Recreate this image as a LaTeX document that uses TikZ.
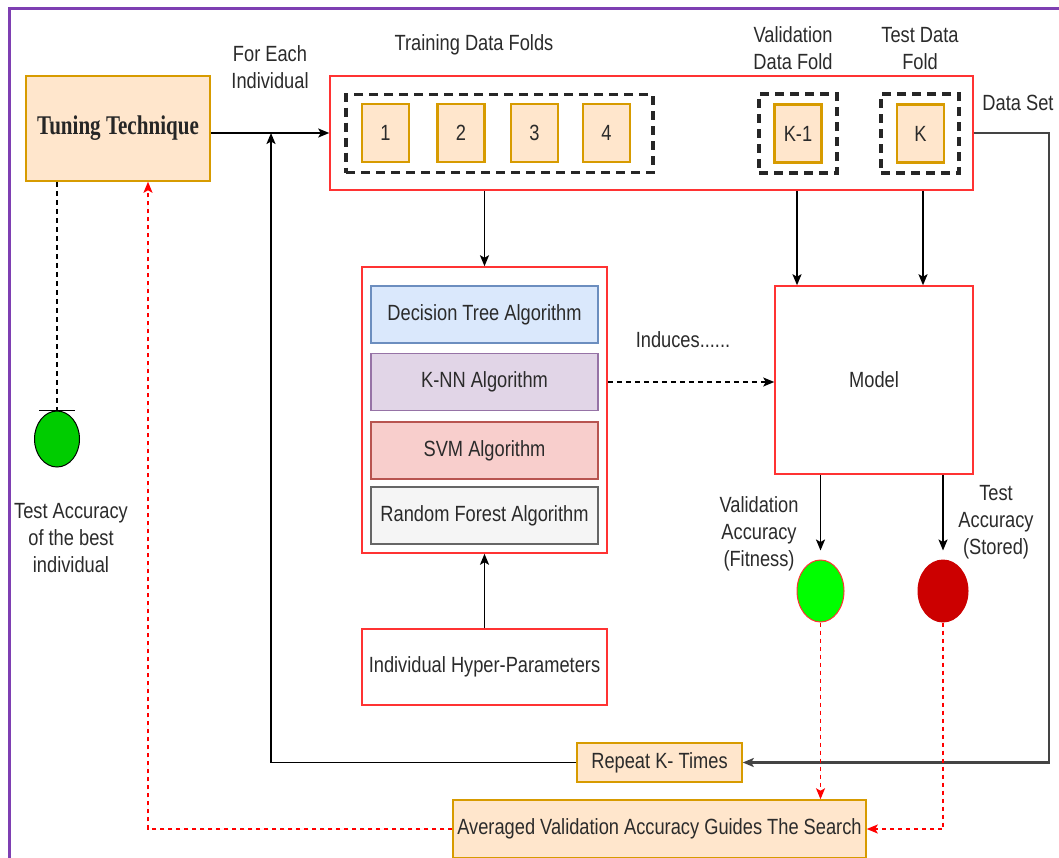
\documentclass[tikz,border=0pt]{standalone}
\usepackage{fontspec}
\setmainfont[FakeStretch=0.83]{Liberation Sans}
\newfontfamily\tunefont[FakeStretch=0.78]{Liberation Serif}
\usetikzlibrary{arrows.meta,shapes.geometric}

\definecolor{frame}{RGB}{126,63,178}
\definecolor{ofill}{HTML}{FFE6CC}
\definecolor{oline}{HTML}{D79B00}
\definecolor{rline}{HTML}{FF3333}
\definecolor{bfill}{HTML}{DAE8FC}
\definecolor{bline}{HTML}{6C8EBF}
\definecolor{pfill}{HTML}{E1D5E7}
\definecolor{pline}{HTML}{9673A6}
\definecolor{sfill}{HTML}{F8CECC}
\definecolor{sline}{HTML}{B85450}
\definecolor{gfill}{HTML}{F5F5F5}
\definecolor{gline}{HTML}{666666}
\definecolor{txt}{HTML}{2B2B2B}
\definecolor{dsline}{HTML}{444444}
\definecolor{okgreen}{HTML}{00FF00}
\definecolor{bestgreen}{HTML}{00CC00}
\definecolor{badred}{HTML}{CC0000}

\begin{document}
\begin{tikzpicture}[x=1pt,y=-1pt,
  every node/.style={text=txt,font=\fontsize{22}{27}\selectfont},
  obox/.style={draw=oline,fill=ofill,line width=1.5pt,inner sep=0pt},
  redbox/.style={draw=rline,line width=1.5pt,inner sep=0pt},
  foldbox/.style={draw=oline,fill=ofill,line width=2.8pt,inner sep=0pt,
    minimum width=47pt,minimum height=58pt},
  dgroup/.style={draw=black!85,line width=3.5pt,dash pattern=on 9pt off 6pt,inner sep=0pt},
  algbox/.style={line width=1.5pt,inner sep=0pt,minimum width=227pt,minimum height=57pt},
  lbl/.style={align=center,inner sep=0pt},
  tip/.style={-{Stealth[length=11pt,width=9pt,inset=2.5pt]}},
  conn/.style={draw=black,line width=1.8pt,tip},
  reddash/.style={draw=red,line width=1.5pt,dash pattern=on 4pt off 4pt,tip},
  blackdash/.style={draw=black,line width=1.5pt,dash pattern=on 5pt off 4pt}]

\useasboundingbox (0,0) rectangle (1059,857);
\fill[white] (0,0) rectangle (1059,857);

% outer frame
\draw[frame,line width=3pt] (9,880) -- (9,8) -- (1080,8);

% tuning technique
\node[obox,minimum width=184pt,minimum height=105pt] (tt) at (118,128.5)
  {\tunefont\bfseries\fontsize{27}{30}\selectfont\color{black!85}Tuning Technique};

% data set with its folds
\node[redbox,minimum width=643pt,minimum height=114pt] (ds) at (651.5,133) {};
\node[dgroup,minimum width=307pt,minimum height=78pt] (trg) at (499.5,133.5) {};
\node[dgroup,minimum width=78pt,minimum height=79pt] (vg) at (798,133.5) {};
\node[dgroup,minimum width=78pt,minimum height=79pt] (tg) at (920,133.5) {};
\node[foldbox] (f1) at (385.5,133) {1};
\node[foldbox] (f2) at (461,133) {2};
\node[foldbox] (f3) at (534.5,133) {3};
\node[foldbox] (f4) at (606.5,133) {4};
\node[foldbox] (fk1) at (798,133.5) {K-1};
\node[foldbox] (fk) at (920.5,133.5) {K};

\node[lbl] (ltrain) at (474,45) {Training Data Folds};
\node[lbl] (lval) at (793,48.5) {Validation\\Data Fold};
\node[lbl] (ltest) at (920,48.5) {Test Data\\Fold};
\node[lbl] (lds) at (1018,103) {Data Set};
\node[lbl] (leach) at (270,67) {For Each\\Individual};

% algorithms
\node[redbox,minimum width=245pt,minimum height=286pt] (alg) at (484.5,410) {};
\node[algbox,draw=bline,fill=bfill] (dt) at (484.5,314.5) {Decision Tree Algorithm};
\node[algbox,draw=pline,fill=pfill] (knn) at (484.5,382) {K-NN Algorithm};
\node[algbox,draw=sline,fill=sfill] (svm) at (484.5,450.5) {SVM Algorithm};
\node[algbox,draw=gline,fill=gfill] (rf) at (484.5,515.5) {Random Forest Algorithm};

\node[redbox,minimum width=245pt,minimum height=76pt] (hp) at (484.5,667) {Individual Hyper-Parameters};

% model
\node[redbox,minimum width=198pt,minimum height=188pt] (model) at (874,380) {Model};
\node[lbl] (lind) at (683,340) {Induces......};

% accuracies
\node[ellipse,draw=rline,line width=1pt,fill=okgreen,minimum width=47pt,minimum height=62pt,inner sep=0pt] (vacc) at (820.5,591) {};
\node[ellipse,draw=badred,line width=1pt,fill=badred,minimum width=50pt,minimum height=62pt,inner sep=0pt] (tacc) at (943,591) {};
\node[lbl] (lvacc) at (759,534) {Validation\\Accuracy\\(Fitness)};
\node[lbl] (ltacc) at (996,522) {Test\\Accuracy\\(Stored)};

\node[ellipse,draw=black,line width=1pt,fill=bestgreen,minimum width=45pt,minimum height=56pt,inner sep=0pt] (best) at (57,439) {};
\node[lbl] (lbest) at (71,538) {Test Accuracy\\of the best\\individual};

% loop and search boxes
\node[obox,minimum width=165pt,minimum height=39pt] (rep) at (659.5,762.5) {Repeat K- Times};
\node[obox,minimum width=413pt,minimum height=58pt] (avg) at (659.5,829) {Averaged Validation Accuracy Guides The Search};

% connectors
\coordinate (jn) at (271,133);
\coordinate (dsr) at (1049,133);
\draw[conn] (tt.east |- ds.west) -- (ds.west);
\draw[conn] (rep.west) -| (jn);
\draw[draw=dsline,line width=2.5pt,tip] (ds.east) -- (dsr) |- (rep.east);
\draw[conn] (ds.south -| alg.north) -- (alg.north);
\draw[conn] (hp.north) -- (alg.south);
\draw[conn] (ds.south -| 797,0) -- (model.north -| 797,0);
\draw[conn] (ds.south -| 923,0) -- (model.north -| 923,0);
\draw[draw=black,line width=1.5pt,dash pattern=on 5pt off 4pt,tip] (alg.east |- knn.east) -- (model.west |- knn.east);
\draw[conn] (model.south -| vacc.north) -- ([yshift=9pt]vacc.north);
\draw[conn] (model.south -| tacc.north) -- ([yshift=9pt]tacc.north);
\draw[reddash] (vacc.south) -- (avg.north -| vacc.south);
\draw[reddash] (tacc.south) |- (avg.east);
\draw[reddash] (avg.west) -| ([xshift=30pt]tt.south);
\draw[blackdash] (tt.south -| best.north) -- (best.north);
\draw[black,line width=1.5pt] ([xshift=-18pt]best.north) -- ([xshift=18pt]best.north);
\end{tikzpicture}
\end{document}
